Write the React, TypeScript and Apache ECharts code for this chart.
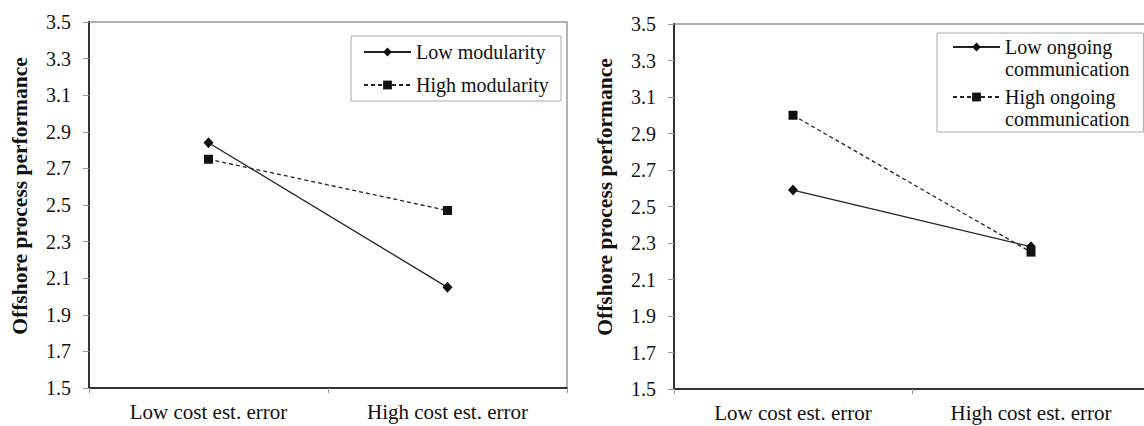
import React, { useEffect, useRef } from 'react';
import * as echarts from 'echarts';

// ---- data ----
const categories = ['Low cost est. error', 'High cost est. error'];
const lowModularity = [2.84, 2.05];
const highModularity = [2.75, 2.47];
const lowCommunication = [2.59, 2.28];
const highCommunication = [3.0, 2.25];
const yMin = 1.5;
const yMax = 3.5;
const yStep = 0.2;
const yAxisTitle = 'Offshore process performance';
const leftNames = ['Low modularity', 'High modularity'];
const rightNames = ['Low ongoing communication', 'High ongoing communication'];

const FONT = 'Liberation Serif, Times New Roman, serif';
const TEXT = '#111';

function xAxis(gridIndex: number) {
  return {
    type: 'category',
    gridIndex,
    data: categories,
    boundaryGap: true,
    axisLine: { show: true, lineStyle: { color: '#333', width: 2 } },
    axisTick: { show: true, length: 5, lineStyle: { color: '#999', width: 1 } },
    axisLabel: { color: TEXT, fontFamily: FONT, fontSize: 21, margin: 13 },
    splitLine: { show: false },
  };
}

function yAxis(gridIndex: number) {
  return {
    type: 'value',
    gridIndex,
    min: yMin,
    max: yMax,
    interval: yStep,
    axisLine: { show: true, lineStyle: { color: '#333', width: 2 } },
    axisTick: { show: true, length: 6, lineStyle: { color: '#999', width: 1 } },
    axisLabel: {
      color: TEXT,
      fontFamily: FONT,
      fontSize: 20,
      margin: 18,
      formatter: (v: number) => v.toFixed(1),
    },
    splitLine: { show: false },
  };
}

function lineSeries(name: string, data: number[], idx: number, dashed: boolean) {
  return {
    name,
    type: 'line',
    xAxisIndex: idx,
    yAxisIndex: idx,
    data,
    symbol: dashed ? 'rect' : 'diamond',
    symbolSize: dashed ? 9 : [10, 11],
    showSymbol: true,
    lineStyle: { color: '#222', width: 1.3, type: dashed ? [4, 3] : 'solid' },
    itemStyle: { color: '#111' },
    emphasis: { disabled: true },
  };
}

const legendText = { fontFamily: FONT, fontSize: 20, color: TEXT };

function yTitle(x: number, y: number) {
  return {
    type: 'text',
    x,
    y,
    rotation: Math.PI / 2,
    style: {
      text: yAxisTitle,
      fontFamily: FONT,
      fontSize: 21.5,
      fontWeight: 'bold',
      fill: TEXT,
      align: 'center',
      verticalAlign: 'middle',
      textAlign: 'center',
      textVerticalAlign: 'middle',
    },
  };
}

const css = `#chart-root svg text, #chart-root svg tspan { font-family: "Liberation Serif", "Times New Roman", serif !important; }`;

export default function App() {
  const ref = useRef<HTMLDivElement>(null);

  useEffect(() => {
    if (!ref.current) return;
    const chart = echarts.init(ref.current, null, { renderer: 'svg' });
    const option: any = {
      animation: false,
      backgroundColor: '#fff',
      textStyle: { fontFamily: FONT },
      grid: [
        { left: 89, top: 22, width: 478, height: 366, show: true, borderColor: '#999', borderWidth: 1.5, containLabel: false, outerBoundsMode: 'none' },
        { left: 674, top: 24, width: 476, height: 365, show: true, borderColor: '#999', borderWidth: 1.5, containLabel: false, outerBoundsMode: 'none' },
      ],
      xAxis: [xAxis(0), xAxis(1)],
      yAxis: [yAxis(0), yAxis(1)],
      legend: [
        {
          data: leftNames,
          orient: 'vertical',
          left: 351,
          top: 36,
          padding: [6, 12, 6, 12],
          itemGap: 13,
          itemWidth: 47,
          itemHeight: 11,
          backgroundColor: '#fff',
          borderColor: '#aaa',
          borderWidth: 1,
          selectedMode: false,
          textStyle: { ...legendText, lineHeight: 20, width: 133, overflow: 'none' },
        },
        {
          data: rightNames,
          orient: 'vertical',
          left: 937,
          top: 33,
          padding: [-19, 14, 2, 15],
          itemGap: -16,
          itemWidth: 47,
          itemHeight: 11,
          backgroundColor: '#fff',
          borderColor: '#aaa',
          borderWidth: 1,
          selectedMode: false,
          formatter: (name: string) => '\n' + name.replace(' communication', '\ncommunication'),
          textStyle: { ...legendText, lineHeight: 22, width: 124, overflow: 'none' },
        },
      ],
      graphic: [yTitle(20, 196), yTitle(605, 197)],
      series: [
        lineSeries(leftNames[0], lowModularity, 0, false),
        lineSeries(leftNames[1], highModularity, 0, true),
        lineSeries(rightNames[0], lowCommunication, 1, false),
        lineSeries(rightNames[1], highCommunication, 1, true),
      ],
    };
    chart.setOption(option);
    return () => chart.dispose();
  }, []);

  return (
    <>
      <style>{css}</style>
      <div
        id="chart-root"
        ref={ref}
        style={{ position: 'fixed', left: 0, top: 0, width: 1144, height: 426, background: '#fff' }}
      />
    </>
  );
}
